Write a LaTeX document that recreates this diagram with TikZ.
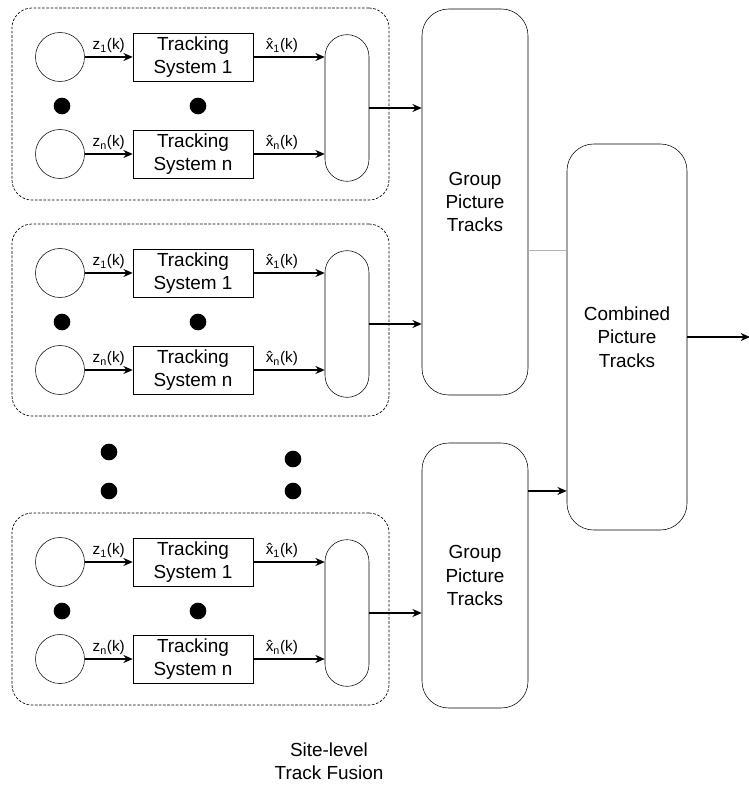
\documentclass[tikz,border=0pt]{standalone}
\usepackage{fontspec}
\setmainfont{Liberation Sans}
\usetikzlibrary{arrows.meta}

\tikzset{
  src/.style={draw, circle, minimum size=36.75pt, inner sep=0pt},
  tracker/.style={draw, rectangle, minimum width=90pt, minimum height=36pt, inner sep=0pt,
    align=center, font=\fontsize{14.2}{17.2}\selectfont},
  pill/.style={draw, rectangle, rounded corners=16.5pt, minimum width=33pt, minimum height=110pt},
  blob/.style={circle, fill=black, minimum size=12.5pt, inner sep=0pt},
  dashbox/.style={draw, dash pattern=on 2pt off 1.2pt, line width=0.5pt, rounded corners=15pt,
    minimum width=282.75pt, minimum height=144pt},
  groupbox/.style={draw, rectangle, rounded corners=20pt, inner sep=0pt, align=center,
    font=\fontsize{14.2}{17.6}\selectfont},
  flow/.style={line width=1.1pt, -{Stealth[length=7pt,width=6pt]}},
  lbl/.style={above=0pt, inner sep=2.5pt, font=\fontsize{11.5}{13}\selectfont}
}

% one site: two sensors, their trackers and the local fusion pill
\def\sitegroup#1#2{%
  \node[dashbox] (#1box) at (200.5,{104+#2}) {};
  \node[src] (#1s1) at (60,{57+#2}) {};
  \node[src] (#1sn) at (60,{154+#2}) {};
  \node[tracker] (#1t1) at (193,{57+#2}) {Tracking\\System 1};
  \node[tracker] (#1tn) at (193,{154+#2}) {Tracking\\System n};
  \node[pill] (#1f) at (347,{108+#2}) {};
  \node[blob] (#1d1) at (62,{106+#2}) {};
  \node[blob] (#1d2) at (198,{106+#2}) {};
  \draw[flow] (#1s1) -- node[lbl] {z\textsubscript{1}(k)} (#1t1);
  \draw[flow] (#1sn) -- node[lbl] {z\textsubscript{n}(k)} (#1tn);
  \draw[flow] (#1t1.east) -- node[lbl, pos=0.4] {\^{x}\textsubscript{1}(k)} (#1t1 -| #1f.west);
  \draw[flow] (#1tn.east) -- node[lbl, pos=0.4] {\^{x}\textsubscript{n}(k)} (#1tn -| #1f.west);
}

\begin{document}
\begin{tikzpicture}[x=0.75pt, y=-0.75pt]
  %%%%% START %%%%%
  \useasboundingbox (0,0) rectangle (748,787);

  \sitegroup{ga}{0}
  \sitegroup{gb}{216}
  \sitegroup{gc}{505}

  % more sites in between
  \node[blob] (mda) at (109,452) {};
  \node[blob] (mdb) at (109,491) {};
  \node[blob] (mdc) at (293,459) {};
  \node[blob] (mdd) at (293,491) {};

  \node[groupbox, minimum width=79.5pt, minimum height=289.5pt] (gpt1) at (475,202) {Group\\Picture\\Tracks};
  \node[groupbox, minimum width=79.5pt, minimum height=198.75pt] (gpt2) at (475,575.5) {Group\\Picture\\Tracks};
  \node[groupbox, minimum width=90pt, minimum height=289.5pt] (cmb) at (627,337) {Combined\\Picture\\Tracks};

  \draw[flow] (gaf.east) -- (gaf.east -| gpt1.west);
  \draw[flow] (gbf.east) -- (gbf.east -| gpt1.west);
  \draw[flow] (gcf.east) -- (gcf.east -| gpt2.west);

  \draw[black!30, line width=0.5pt] ([yshift=-36pt]gpt1.east) -- ([yshift=-36pt]gpt1.east -| cmb.west);
  \draw[flow] ([yshift=63.4pt]gpt2.east) -- ([yshift=63.4pt]gpt2.east -| cmb.west);

  \coordinate (out) at (750,337);
  \draw[flow] (cmb.east) -- (out);

  \node[align=center, font=\fontsize{14.2}{17.2}\selectfont] (site) at (329,761) {Site-level\\Track Fusion};
  %%%%% END %%%%%
\end{tikzpicture}
\end{document}
